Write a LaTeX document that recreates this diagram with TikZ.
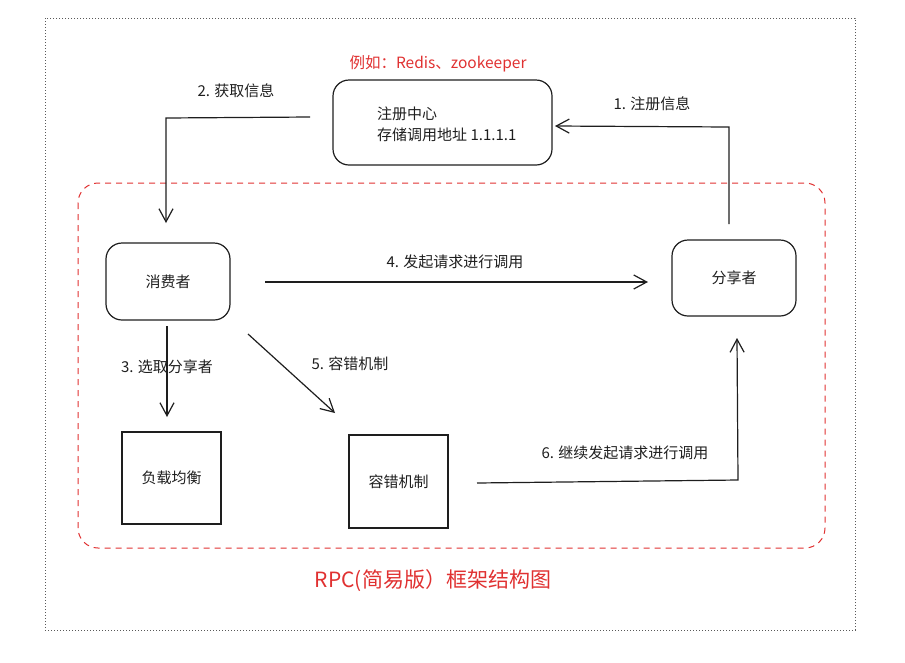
\documentclass[tikz,border=0pt]{standalone}
\usepackage{fontspec}
\setmainfont{Noto Sans CJK SC}
\usetikzlibrary{arrows.meta}
\definecolor{ink}{HTML}{1E1E1E}
\definecolor{redink}{HTML}{E03131}
\tikzset{
  roundbox/.style={draw=ink, line width=1.2pt, rounded corners=16pt, font=\fontsize{15}{19}\selectfont, text=ink},
  sqbox/.style={draw=ink, line width=1.2pt, font=\fontsize{15}{18}\selectfont, text=ink},
  boxtext/.style={font=\fontsize{15}{21}\selectfont, text=ink},
  lbl/.style={font=\fontsize{15}{18}\selectfont, text=ink},
  conn/.style={draw=ink, line width=1.2pt, -{Straight Barb[length=13pt,width=14pt,line width=1.2pt]}},
}
\begin{document}
\begin{tikzpicture}[x=1pt,y=-1pt]
\useasboundingbox (0,0) rectangle (905,662);
% outer dotted frame
\draw[gray!70!black, line width=1pt, dotted] (45,18) rectangle (855,630);
% red dashed frame
\draw[redink, line width=1pt, dash pattern=on 6pt off 5pt, rounded corners=20pt] (78,183) rectangle (825,548);

% nodes
\node[roundbox, minimum width=219pt, minimum height=85pt] (reg) at (442.5,122.5) {};
\node[boxtext, align=left, anchor=west, inner sep=0pt] (regtxt) at (377,124) {注册中心\\存储调用地址 1.1.1.1};
\node[roundbox, minimum width=124pt, minimum height=77pt] (cons) at (168,281.5) {消费者};
\node[roundbox, minimum width=124pt, minimum height=76pt] (share) at (734,278) {分享者};
\node[sqbox, minimum width=99pt, minimum height=92pt] (lb) at (171.5,478) {负载均衡};
\node[sqbox, minimum width=99pt, minimum height=93pt] (ft) at (398.5,481.5) {容错机制};

% texts
\node[font=\fontsize{15.5}{18}\selectfont, text=redink] (eg) at (438,64) {例如：Redis、zookeeper};
\node[font=\fontsize{21}{24}\selectfont, text=redink] (title) at (433,581) {RPC(简易版）框架结构图};
\node[lbl] (l2) at (236,91) {2. 获取信息};
\node[lbl] (l1) at (652,104) {1. 注册信息};
\node[lbl] (l4) at (455,262) {4. 发起请求进行调用};
\node[lbl] (l3) at (167,367) {3. 选取分享者};
\node[lbl] (l5) at (350,364) {5. 容错机制};
\node[lbl] (l6) at (625,453) {6. 继续发起请求进行调用};

% connector coordinates
\coordinate (a2s) at (310,117);
\coordinate (a2c) at (166,118);
\coordinate (a2e) at (166,223);
\coordinate (a1s) at (729,224);
\coordinate (a1c) at (729,127);
\coordinate (a1e) at (555,126);
\coordinate (a4s) at (265,282);
\coordinate (a4e) at (648,282);
\coordinate (a3s) at (167,326);
\coordinate (a3e) at (167,417);
\coordinate (a5s) at (248,334);
\coordinate (a5e) at (335,413);
\coordinate (a6s) at (477,483);
\coordinate (a6c) at (738,480);
\coordinate (a6e) at (737,338);

\draw[conn] (a2s) -- (a2c) -- (a2e);
\draw[conn] (a1s) -- (a1c) -- (a1e);
\draw[conn] (a4s) -- (a4e);
\draw[conn] (a3s) -- (a3e);
\draw[conn] (a5s) -- (a5e);
\draw[conn] (a6s) -- (a6c) -- (a6e);
\end{tikzpicture}
\end{document}
